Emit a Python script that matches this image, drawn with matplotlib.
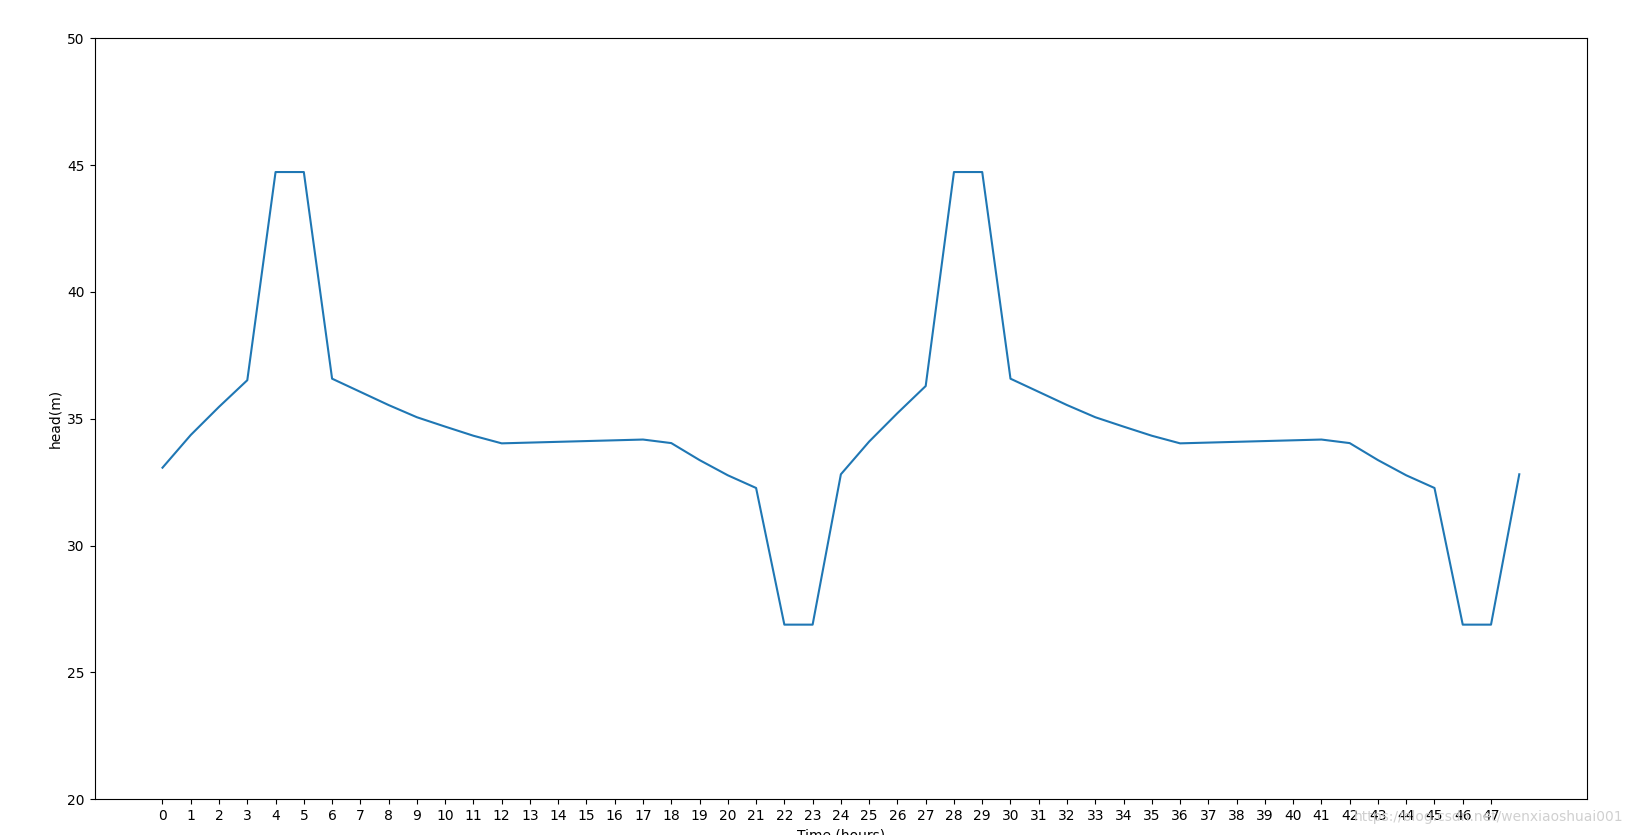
import matplotlib
matplotlib.use('Agg')
import matplotlib.pyplot as plt
import numpy as np

# head values, one per hour
hours = list(range(49))
head = [33.07, 34.36, 35.47, 36.52, 44.73, 44.73, 36.58, 36.06, 35.54, 35.06,
        34.69, 34.33, 34.03, 34.06, 34.09, 34.12, 34.15, 34.18, 34.04, 33.37,
        32.77, 32.27, 26.88, 26.88, 32.81, 34.1, 35.22, 36.29, 44.73, 44.73,
        36.58, 36.06, 35.54, 35.06, 34.69, 34.33, 34.03, 34.06, 34.09, 34.12,
        34.15, 34.18, 34.04, 33.37, 32.77, 32.27, 26.88, 26.88, 32.81]
xtick_labels = list(range(48))

fig = plt.figure(figsize=(16.32, 8.35), dpi=100)
ax = fig.add_axes([0.058, 0.043, 0.9145, 0.911])
ax.plot(hours, head)
ax.set_xticks(xtick_labels)
ax.set_ylim(20, 50)
ax.set_xlabel('Time (hours)')
ax.set_ylabel('head(m)')

# blog watermark
fig.text(0.995, 0.022, 'https://blog.csdn.net/wenxiaoshuai001', ha='right', va='center',
         fontsize=10, color='#d0d0d0')

fig.savefig('out.png', dpi=100)
